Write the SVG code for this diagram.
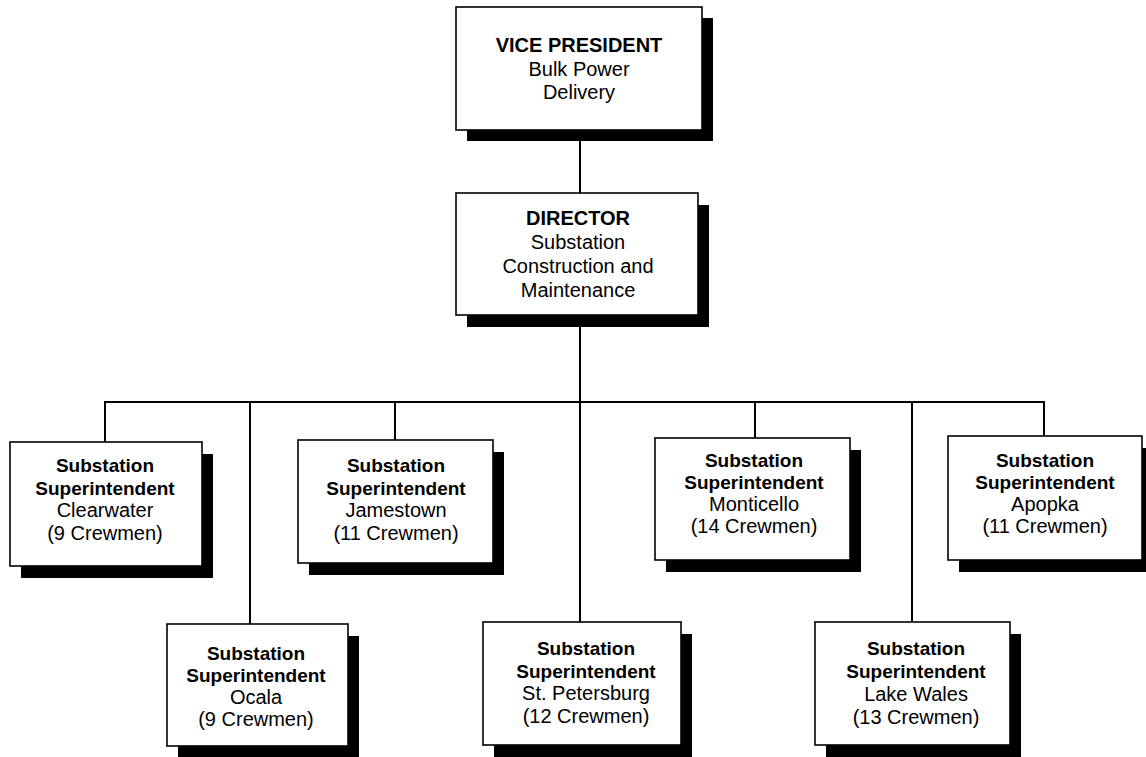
<svg xmlns="http://www.w3.org/2000/svg" width="1146" height="757" viewBox="0 0 1146 757">
<style>
.sh{fill:#000}
.bx{fill:#fff;stroke:#000;stroke-width:1.6}
text{font-family:"Liberation Sans",Arial,sans-serif;fill:#000;text-anchor:middle}
.t{font-size:20px}
.l{font-size:20px}
.b{font-weight:bold;font-size:19px}
.t .b{font-size:20px}
.c{fill:none;stroke:#000;stroke-width:2}
</style>
<rect width="1146" height="757" fill="#fff"/>
<g id="connectors">
<line class="c" x1="580" y1="130" x2="580" y2="193"/>
<line class="c" x1="580" y1="315" x2="580" y2="622"/>
<polyline class="c" points="105,442 105,402 1044,402 1044,436"/>
<line class="c" x1="250" y1="402" x2="250" y2="624"/>
<line class="c" x1="395" y1="402" x2="395" y2="440"/>
<line class="c" x1="755" y1="402" x2="755" y2="438"/>
<line class="c" x1="912" y1="402" x2="912" y2="622"/>
</g>
<g id="vp">
<rect class="sh" x="467" y="18" width="246" height="123"/>
<rect class="bx" x="456" y="7" width="246" height="123"/>
<text class="t" x="579" y="52"><tspan class="b">VICE PRESIDENT</tspan><tspan x="579" dy="23.5">Bulk Power</tspan><tspan x="579" dy="23.5">Delivery</tspan></text>
</g>
<g id="director">
<rect class="sh" x="467" y="205" width="242" height="122"/>
<rect class="bx" x="456" y="193" width="242" height="122"/>
<text class="t" x="578" y="225"><tspan class="b">DIRECTOR</tspan><tspan x="578" dy="24">Substation</tspan><tspan x="578" dy="24">Construction and</tspan><tspan x="578" dy="24">Maintenance</tspan></text>
</g>
<g id="clearwater">
<rect class="sh" x="21" y="454" width="192" height="124"/>
<rect class="bx" x="10" y="442" width="192" height="124"/>
<text class="l" x="105" y="472"><tspan class="b">Substation</tspan><tspan class="b" x="105" dy="22.5">Superintendent</tspan><tspan x="105" dy="22.5">Clearwater</tspan><tspan x="105" dy="22.5">(9 Crewmen)</tspan></text>
</g>
<g id="jamestown">
<rect class="sh" x="309" y="452" width="195" height="123"/>
<rect class="bx" x="298" y="440" width="195" height="123"/>
<text class="l" x="396" y="472"><tspan class="b">Substation</tspan><tspan class="b" x="396" dy="22.5">Superintendent</tspan><tspan x="396" dy="22.5">Jamestown</tspan><tspan x="396" dy="22.5">(11 Crewmen)</tspan></text>
</g>
<g id="monticello">
<rect class="sh" x="666" y="450" width="195" height="122"/>
<rect class="bx" x="655" y="438" width="195" height="122"/>
<text class="l" x="754" y="467"><tspan class="b">Substation</tspan><tspan class="b" x="754" dy="22">Superintendent</tspan><tspan x="754" dy="22">Monticello</tspan><tspan x="754" dy="22">(14 Crewmen)</tspan></text>
</g>
<g id="apopka">
<rect class="sh" x="959" y="448" width="194" height="124"/>
<rect class="bx" x="948" y="436" width="194" height="124"/>
<text class="l" x="1045" y="467"><tspan class="b">Substation</tspan><tspan class="b" x="1045" dy="22">Superintendent</tspan><tspan x="1045" dy="22">Apopka</tspan><tspan x="1045" dy="22">(11 Crewmen)</tspan></text>
</g>
<g id="ocala">
<rect class="sh" x="178" y="636" width="181" height="122"/>
<rect class="bx" x="167" y="624" width="181" height="122"/>
<text class="l" x="256" y="660"><tspan class="b">Substation</tspan><tspan class="b" x="256" dy="22">Superintendent</tspan><tspan x="256" dy="22">Ocala</tspan><tspan x="256" dy="22">(9 Crewmen)</tspan></text>
</g>
<g id="stpetersburg">
<rect class="sh" x="494" y="634" width="198" height="123"/>
<rect class="bx" x="483" y="622" width="198" height="123"/>
<text class="l" x="586" y="655"><tspan class="b">Substation</tspan><tspan class="b" x="586" dy="22.5">Superintendent</tspan><tspan x="586" dy="22.5">St. Petersburg</tspan><tspan x="586" dy="22.5">(12 Crewmen)</tspan></text>
</g>
<g id="lakewales">
<rect class="sh" x="826" y="634" width="195" height="123"/>
<rect class="bx" x="815" y="622" width="195" height="123"/>
<text class="l" x="916" y="655"><tspan class="b">Substation</tspan><tspan class="b" x="916" dy="23">Superintendent</tspan><tspan x="916" dy="23">Lake Wales</tspan><tspan x="916" dy="23">(13 Crewmen)</tspan></text>
</g>
</svg>
